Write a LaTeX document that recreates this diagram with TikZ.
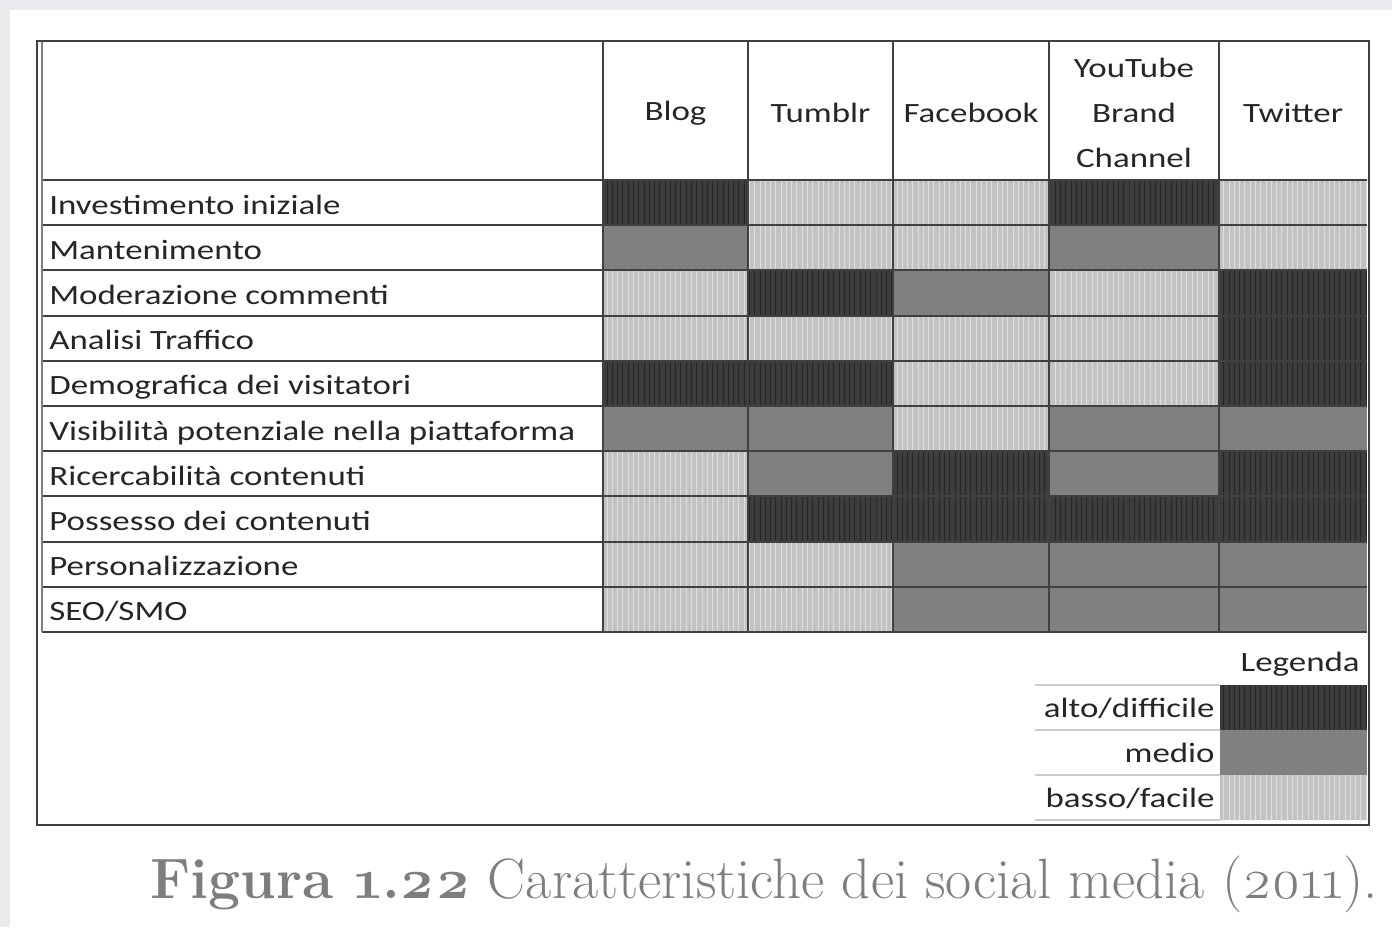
\documentclass[tikz,border=0pt]{standalone}
\usepackage{fontspec}
\newfontfamily\tabfont[FakeStretch=1.25]{Carlito}
\newfontfamily\capfont[Numbers=OldStyle]{Latin Modern Roman}
\usetikzlibrary{patterns}
\definecolor{pagebg}{HTML}{E9EBEF}
\definecolor{altoc}{HTML}{3D3D3D}
\definecolor{altol}{HTML}{262626}
\definecolor{medioc}{HTML}{808080}
\definecolor{bassoc}{HTML}{C2C2C2}
\definecolor{bassol}{HTML}{E0E0E0}
\definecolor{capgray}{HTML}{7E7E7E}
\def\rowh{45.2}
\def\colx{{603,748,893,1049,1219,1367}}

\begin{document}
\begin{tikzpicture}[x=0.02cm,y=-0.02cm,font=\tabfont\fontsize{15.9}{25.5}\selectfont,text=black!85]
\tikzstyle{alto}=[fill=altoc,postaction={pattern=vertical lines,pattern color=altol}]
\tikzstyle{medio}=[fill=medioc]
\tikzstyle{basso}=[fill=bassoc,postaction={pattern=vertical lines,pattern color=bassol}]
\tikzstyle{rowlabel}=[anchor=base west,inner sep=0pt]
\tikzstyle{colhead}=[align=center,inner sep=0pt]
\tikzstyle{legend label}=[anchor=base east,inner sep=0pt]
\tikzstyle{rule}=[draw=black!75,line width=1.2pt]

% Page
\fill[pagebg] (0,0) rectangle (1392,927);
\fill[white] (10,10) rectangle (1392,927);

% Fill the cells, one row of values per line
\foreach \vals [count=\r] in {{alto,basso,basso,alto,basso},
                              {medio,basso,basso,medio,basso},
                              {basso,alto,medio,basso,alto},
                              {basso,basso,basso,basso,alto},
                              {alto,alto,basso,basso,alto},
                              {medio,medio,basso,medio,medio},
                              {basso,medio,alto,medio,alto},
                              {basso,alto,alto,alto,alto},
                              {basso,basso,medio,medio,medio},
                              {basso,basso,medio,medio,medio}}
\foreach \v [count=\c] in \vals {
  \pgfmathsetmacro\xa{\colx[\c-1]}
  \pgfmathsetmacro\xb{\colx[\c]}
  \path[\v] (\xa,{180+(\r-1)*\rowh}) rectangle (\xb,{180+\r*\rowh});
}

% Grid of the table
\foreach \r in {0,...,10}
\draw[rule] (42,{180+\r*\rowh}) -- (1367,{180+\r*\rowh});
\foreach \x in {603,748,893,1049,1219}
\draw[rule] (\x,41) -- (\x,632);
\draw[draw=black!50,line width=0.8pt] (42,41) -- (42,632);
\draw[rule] (37,41) rectangle (1369,825);

% Row labels
\foreach \name [count=\r] in {Investimento iniziale,Mantenimento,Moderazione commenti,
  Analisi Traffico,Demografica dei visitatori,Visibilità potenziale nella piattaforma,
  Ricercabilità contenuti,Possesso dei contenuti,Personalizzazione,SEO/SMO}
\node[rowlabel] (R-\r) at (49,{180+(\r-1)*\rowh+34}) {\name};

% Column heads
\foreach \name/\x [count=\c] in {Blog/675.5,Tumblr/820.5,Facebook/971,
  {YouTube\\Brand\\Channel}/1134,Twitter/1293}
\node[colhead] (H-\c) at (\x,113) {\name};

% Legend
\node[legend label] (leg) at (1360,671) {Legenda};
\draw[black!20,line width=0.8pt] (1035,685) -- (1220,685);
\foreach \lv/\txt [count=\i] in {alto/{alto/difficile},medio/medio,basso/{basso/facile}} {
  \path[\lv] (1220,{685+(\i-1)*45}) rectangle (1367,{685+\i*45});
  \node[legend label] (L-\i) at (1215,{685+(\i-1)*45+32}) {\txt};
  \draw[black!20,line width=0.8pt] (1035,{685+\i*45}) -- (1220,{685+\i*45});
}

% Caption
\node[anchor=base east,inner sep=0pt,text=capgray,font=\capfont\fontsize{32.4}{40}\selectfont] (cap) at (1378,898)
  {\textbf{Figura 1.22} Caratteristiche dei social media (2011).};
\end{tikzpicture}
\end{document}
